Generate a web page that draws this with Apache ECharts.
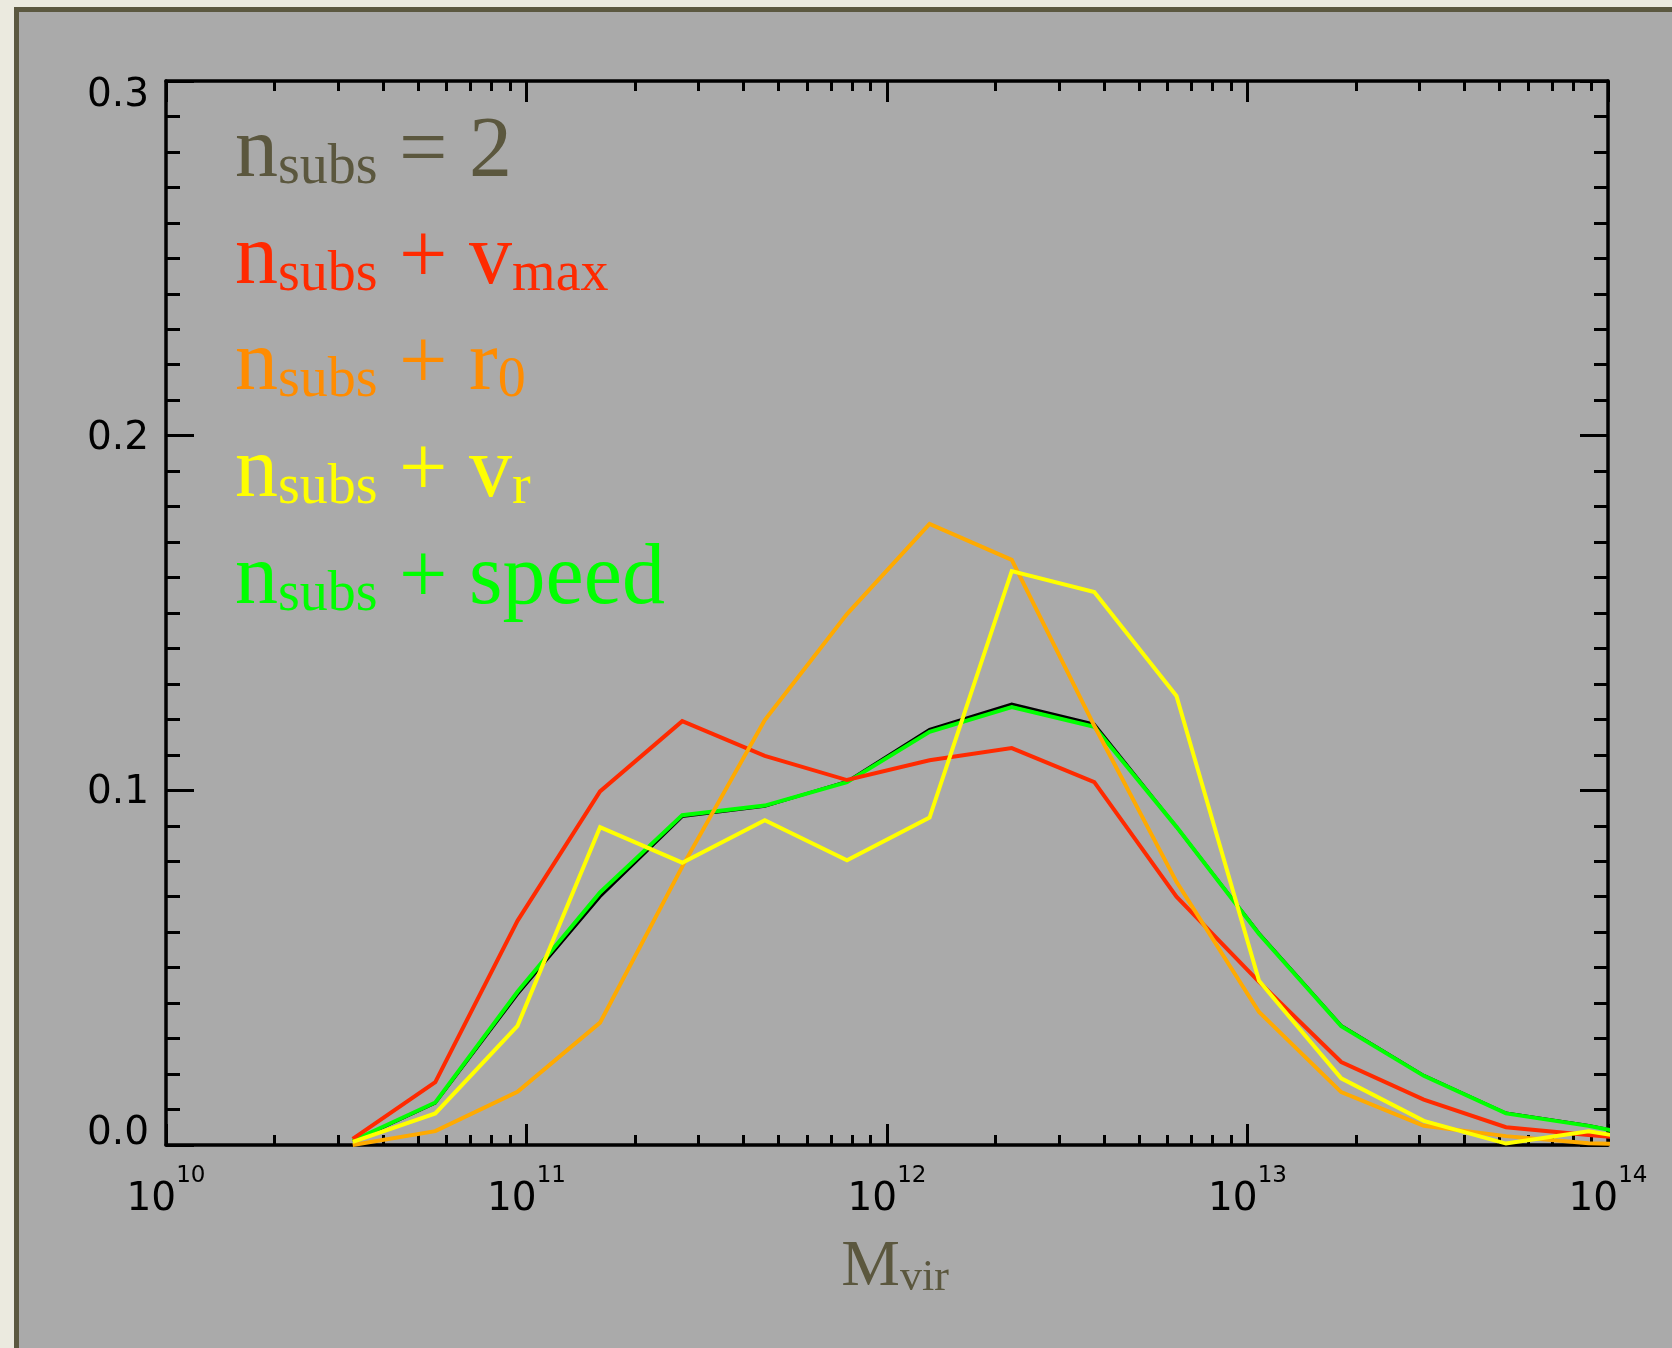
<!DOCTYPE html>
<html>
<head>
<meta charset="utf-8">
<script src="https://cdn.jsdelivr.net/npm/echarts@6/dist/echarts.min.js"></script>
<style>
  html, body { margin: 0; padding: 0; background: #ebeadf; }
  #chart { width: 1672px; height: 1348px; }
</style>
</head>
<body>
<div id="chart"></div>
<script>
// Bin centres, log10(M_vir / Msun)
const logMass = [10.518, 10.747, 10.975, 11.204, 11.432, 11.661, 11.889, 12.118, 12.346,
                 12.575, 12.803, 13.032, 13.260, 13.489, 13.717, 13.946, 14.174];

// Fraction of haloes per bin for each selection
const fracNsubs = [0.0010, 0.0118, 0.0425, 0.0700, 0.0926, 0.0955, 0.1025, 0.1172, 0.1243,
                   0.1187, 0.0897, 0.0597, 0.0337, 0.0196, 0.0090, 0.0055, 0.0010];
const fracVmax  = [0.0017, 0.0177, 0.0632, 0.0997, 0.1195, 0.1097, 0.1029, 0.1085, 0.1119,
                   0.1023, 0.0700, 0.0460, 0.0234, 0.0128, 0.0050, 0.0028, 0.0010];
const fracR0    = [0.0000, 0.0039, 0.0150, 0.0345, 0.0785, 0.1198, 0.1497, 0.1751, 0.1650,
                   0.1182, 0.0742, 0.0375, 0.0149, 0.0054, 0.0025, 0.0005, 0.0000];
const fracVr    = [0.0009, 0.0089, 0.0336, 0.0896, 0.0796, 0.0916, 0.0803, 0.0923, 0.1618,
                   0.1559, 0.1266, 0.0463, 0.0188, 0.0068, 0.0004, 0.0039, 0.0000];
const fracSpeed = [0.0012, 0.0120, 0.0432, 0.0712, 0.0930, 0.0957, 0.1023, 0.1165, 0.1235,
                   0.1179, 0.0897, 0.0595, 0.0335, 0.0195, 0.0089, 0.0054, 0.0010];

// Axis ranges and ticks
const xDecades = [10, 11, 12, 13, 14];
const yRange = [0, 0.3];
const yStep = 0.1;

const OLIVE = '#5b573e';
const TICK_FONT = 'DejaVu Sans';
const SERIF = '"Liberation Serif", "Times New Roman", serif';

// minor ticks at 2..9 x 10^n, in log10 units
const minorLog = [];
for (let d = xDecades[0]; d < xDecades[xDecades.length - 1]; d++) {
  for (let k = 2; k <= 9; k++) minorLog.push(d + Math.log10(k));
}

function lineSeries(name, vals, color, width, z) {
  return {
    name, type: 'line', xAxisIndex: 0, yAxisIndex: 0,
    data: logMass.map((lx, i) => [Math.pow(10, lx), vals[i]]),
    showSymbol: false, symbol: 'none', clip: true, z,
    lineStyle: { color, width, join: 'miter' }, itemStyle: { color },
    animation: false
  };
}

const axisLineStyle = { color: '#000', width: 3.5 };
const tickStyle = { color: '#000', width: 3 };

function decoAxis(position, ticks, len, withLine) {
  return {
    type: 'value', min: xDecades[0], max: xDecades[xDecades.length - 1], position,
    axisLine: { show: withLine, onZero: false, lineStyle: axisLineStyle },
    axisTick: { show: true, inside: true, length: len, customValues: ticks, lineStyle: tickStyle },
    axisLabel: { show: false }, splitLine: { show: false }
  };
}

function legendLine(parts, color, baseline) {
  return {
    type: 'text', x: 235, y: baseline - 78.7, silent: true,
    style: {
      text: parts, fill: color, align: 'left', verticalAlign: 'top',
      rich: {
        n: { fontSize: 86, fontFamily: SERIF, fill: color, lineHeight: 100, verticalAlign: 'bottom' },
        s: { fontSize: 56, fontFamily: SERIF, fill: color, lineHeight: 68, verticalAlign: 'bottom' }
      }
    }
  };
}

const chart = echarts.init(document.getElementById('chart'), null, { renderer: 'canvas' });

chart.setOption({
  backgroundColor: '#ebeadf',
  animation: false,
  grid: { left: 166, right: 64, top: 81, bottom: 203, containLabel: false },
  xAxis: [
    {
      type: 'log', logBase: 10, min: Math.pow(10, xDecades[0]), max: Math.pow(10, xDecades[xDecades.length - 1]),
      position: 'bottom',
      axisLine: { show: true, onZero: false, lineStyle: axisLineStyle },
      axisTick: { show: true, inside: true, length: 21, lineStyle: tickStyle },
      splitLine: { show: false },
      axisLabel: {
        margin: 20,
        formatter: v => '{b|10}{s|' + Math.round(Math.log10(v)) + '}',
        rich: {
          b: { fontSize: 39, fontFamily: TICK_FONT, color: '#000', lineHeight: 54, verticalAlign: 'bottom' },
          s: { fontSize: 23, fontFamily: TICK_FONT, color: '#000', lineHeight: 24, verticalAlign: 'top' }
        }
      }
    },
    decoAxis('bottom', minorLog, 10, false),
    decoAxis('top', xDecades, 21, true),
    decoAxis('top', minorLog, 10, false)
  ],
  yAxis: [
    {
      type: 'value', min: yRange[0], max: yRange[1], interval: yStep, position: 'left',
      axisLine: { show: true, onZero: false, lineStyle: axisLineStyle },
      axisTick: { show: true, inside: true, length: 28, lineStyle: tickStyle },
      minorTick: { show: true, splitNumber: 10, length: 14, lineStyle: tickStyle },
      splitLine: { show: false },
      axisLabel: {
        margin: 17,
        formatter: v => {
          const t = v.toFixed(1);
          if (v > yRange[1] - 1e-9) return '{hi|' + t + '}';
          if (v < yRange[0] + 1e-9) return '{lo|' + t + '}';
          return '{mid|' + t + '}';
        },
        rich: {
          hi:  { fontSize: 39, fontFamily: TICK_FONT, color: '#000', padding: [30, 0, 0, 0] },
          mid: { fontSize: 39, fontFamily: TICK_FONT, color: '#000', padding: [6, 0, 0, 0] },
          lo:  { fontSize: 39, fontFamily: TICK_FONT, color: '#000', padding: [0, 0, 22, 0] }
        }
      }
    },
    {
      type: 'value', min: yRange[0], max: yRange[1], interval: yStep, position: 'right',
      axisLine: { show: true, onZero: false, lineStyle: axisLineStyle },
      axisTick: { show: true, inside: true, length: 28, lineStyle: tickStyle },
      minorTick: { show: true, splitNumber: 10, length: 14, lineStyle: tickStyle },
      splitLine: { show: false },
      axisLabel: { show: false }
    }
  ],
  graphic: [
    {
      type: 'rect', z: -10, silent: true,
      shape: { x: 16.5, y: 9.5, width: 1700, height: 1400 },
      style: { fill: '#aaaaaa', stroke: '#5b5840', lineWidth: 5 }
    },
    legendLine('{n|n}{s|subs}{n| = 2}', OLIVE, 175),
    legendLine('{n|n}{s|subs}{n| + v}{s|max}', '#ff2a00', 282),
    legendLine('{n|n}{s|subs}{n| + r}{s|0}', '#ff8c00', 388),
    legendLine('{n|n}{s|subs}{n| + v}{s|r}', '#ffff00', 495),
    legendLine('{n|n}{s|subs}{n| + speed}', '#00ff00', 602),
    {
      type: 'text', x: 895, y: 1283 - 62.3, silent: true,
      style: {
        text: '{m|M}{v|vir}', fill: OLIVE, align: 'center', verticalAlign: 'top',
        rich: {
          m: { fontSize: 66, fontFamily: SERIF, fill: OLIVE, lineHeight: 80, verticalAlign: 'bottom' },
          v: { fontSize: 44, fontFamily: SERIF, fill: OLIVE, lineHeight: 53, verticalAlign: 'bottom' }
        }
      }
    }
  ],
  series: [
    lineSeries('nsubs = 2', fracNsubs, '#000000', 3, 2),
    lineSeries('nsubs + speed', fracSpeed, '#00ff00', 4, 3),
    lineSeries('nsubs + vmax', fracVmax, '#ff2a00', 4, 4),
    lineSeries('nsubs + r0', fracR0, '#ffaa00', 4, 5),
    lineSeries('nsubs + vr', fracVr, '#ffff00', 4, 6)
  ]
});
</script>
</body>
</html>
